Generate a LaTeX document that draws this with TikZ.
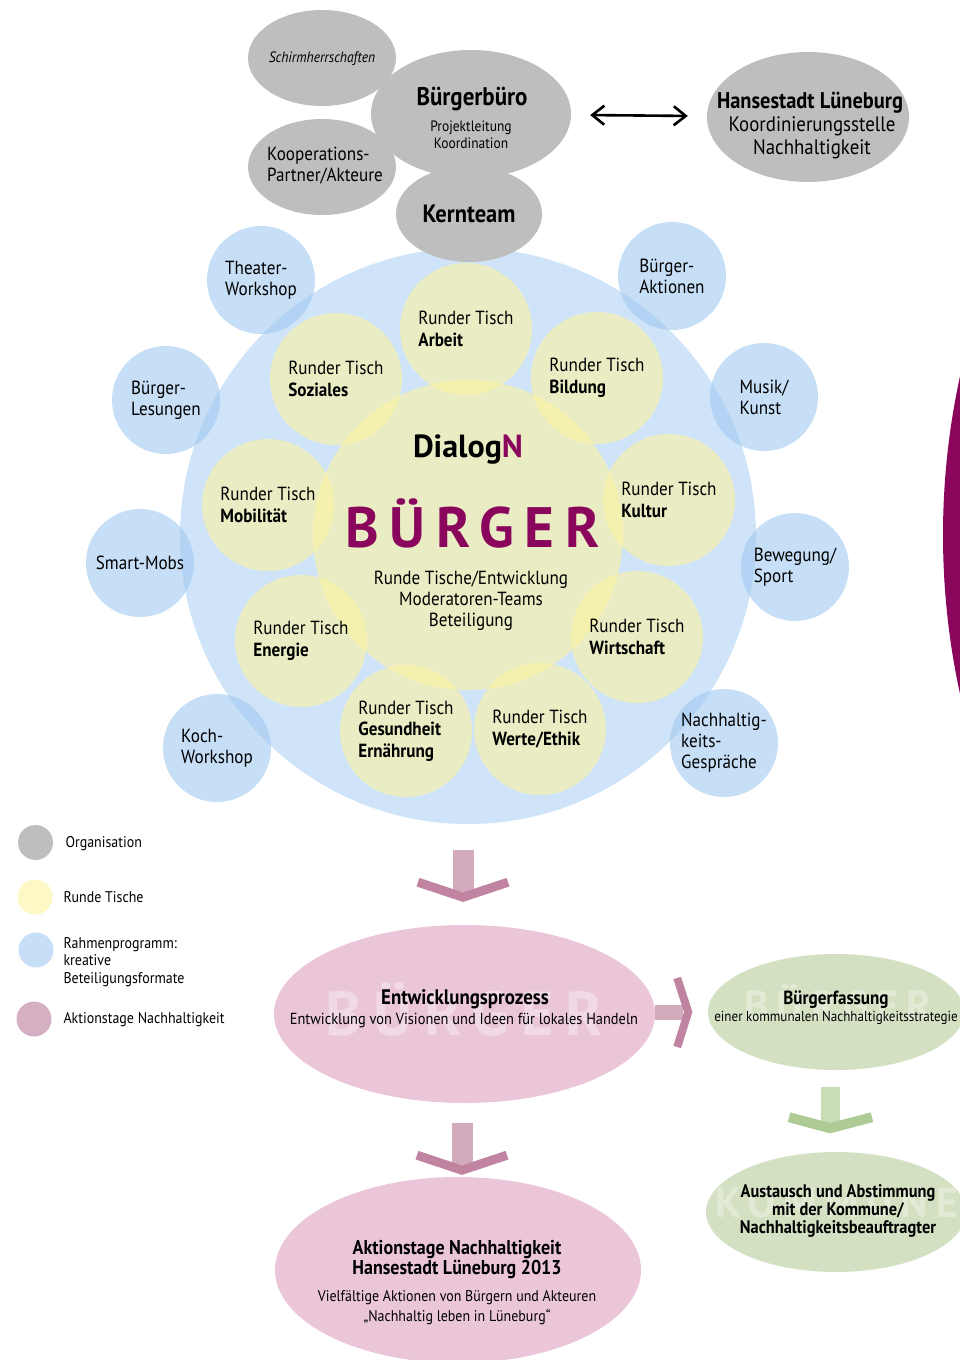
\documentclass[tikz,border=0pt]{standalone}
\usepackage{fontspec}
\setmainfont{PT Sans}[FakeStretch=0.9]
\newfontfamily\titelfont{PT Sans}
\newfontfamily\sperrfont{PT Sans}[LetterSpace=19]
\usetikzlibrary{shapes.geometric,arrows.meta,calc}

\definecolor{orgagrau}{RGB}{190,190,190}
\definecolor{tischgelb}{RGB}{252,244,160}
\definecolor{rahmenblau}{RGB}{160,200,240}
\definecolor{grossblau}{RGB}{207,228,248}
\definecolor{aktionrosa}{RGB}{234,198,216}
\definecolor{legendrosa}{RGB}{212,176,194}
\definecolor{pfeilrosa}{RGB}{212,170,189}
\definecolor{pfeilrosadunkel}{RGB}{192,132,160}
\definecolor{kommgruen}{RGB}{211,224,193}
\definecolor{pfeilgruen}{RGB}{200,220,181}
\definecolor{pfeilgruendunkel}{RGB}{174,203,150}
\definecolor{dialoglila}{RGB}{138,6,93}

\newcommand{\schrift}[2]{\fontsize{#1}{#2}\selectfont}

\begin{document}
\begin{tikzpicture}[x=1pt, y=1pt,
		orga/.style={ellipse, fill=orgagrau, inner sep=0pt},
		tisch/.style={circle, fill=tischgelb, fill opacity=0.6, text opacity=1, minimum size=132pt, inner sep=0pt, align=left, font=\schrift{19}{21.5}},
		rahmen/.style={circle, fill=rahmenblau, fill opacity=0.6, text opacity=1, minimum size=108pt, inner sep=0pt, align=left, font=\schrift{19}{21}},
		aktion/.style={ellipse, fill=aktionrosa, inner sep=0pt},
		kommune/.style={ellipse, fill=kommgruen, inner sep=0pt},
		legende/.style={circle, minimum size=35pt, inner sep=0pt},
		wasserzeichen/.style={text=white, text opacity=0.35},
		winkel/.style={line width=9pt, line join=miter},
		doppelpfeil/.style={{Straight Barb[length=12pt,width=19pt]}-{Straight Barb[length=12pt,width=19pt]}, line width=2.6pt}]

		\useasboundingbox (0,0) rectangle (960,-1360);
		\clip (0,0) rectangle (960,-1360);

		% Draw the edge of the next sheet
		\fill[dialoglila] (1686,-535) circle (743);

		% Draw the organisation circles
		\node[orga, minimum width=148pt, minimum height=96pt] (schirm) at (322,-58) {};
		\node[orga, minimum width=148pt, minimum height=96pt] (koop) at (322,-167) {};
		\node[orga, minimum width=200pt, minimum height=128pt] (buero) at (471,-114) {};
		\node[orga, minimum width=202pt, minimum height=130pt] (hanse) at (808,-117) {};

		\node[anchor=base, font=\itshape\schrift{15}{17}] (schirm-txt) at (322,-62) {Schirmherrschaften};
		\node[align=left, font=\schrift{19}{21}] (koop-txt) at (325,-166) {Kooperations-\\Partner/Akteure};
		\node[anchor=base, font=\bfseries\schrift{25.5}{27}] (buero-titel) at (472,-105) {Bürgerbüro};
		\node[align=center, font=\schrift{15}{17}] (buero-sub) at (471,-135) {Projektleitung\\Koordination};
		\node[anchor=base, font=\bfseries\schrift{22.7}{24}] (hanse-titel) at (810,-108) {Hansestadt Lüneburg};
		\node[align=center, font=\schrift{21}{23}] (hanse-sub) at (812,-138) {Koordinierungsstelle\\Nachhaltigkeit};

		\draw[doppelpfeil, shorten <=19pt, shorten >=19pt] (buero) -- (hanse);

		% Draw the big circle and the round tables
		\node[circle, fill=grossblau, minimum size=576pt, inner sep=0pt] (dialog) at (468,-536) {};
		\node[orga, minimum width=146pt, minimum height=96pt, font=\bfseries\schrift{25}{27}] (kern) at (469,-214) {Kernteam};

		\node[tisch, minimum size=310pt] (mitte) at (468,-535) {};
		\node[anchor=base, font=\titelfont\bfseries\schrift{32}{34}] (dialogn) at (468,-457) {Dialog\textcolor{dialoglila}{N}};
		\node[anchor=base, text=dialoglila, font=\sperrfont\bfseries\schrift{57}{60}] (buerger) at (472.5,-547) {BÜRGER};
		\node[align=center, font=\schrift{19}{21}] (mitte-txt) at (471,-601) {Runde Tische/Entwicklung\\Moderatoren-Teams\\Beteiligung};

		\node[tisch] (arbeit) at (466,-329) {Runder Tisch\\\textbf{Arbeit}};
		\node[tisch] (bildung) at (597,-378) {Runder Tisch\\\textbf{Bildung}};
		\node[tisch] (kultur) at (669,-500) {Runder Tisch\\\textbf{Kultur}};
		\node[tisch] (wirtschaft) at (637,-637) {Runder Tisch\\\textbf{Wirtschaft}};
		\node[tisch] (werte) at (540,-729) {Runder Tisch\\\textbf{Werte/Ethik}};
		\node[tisch] (gesundheit) at (406,-731) {Runder Tisch\\\textbf{Gesundheit}\\\textbf{Ernährung}};
		\node[tisch] (energie) at (301,-641) {Runder Tisch\\\textbf{Energie}};
		\node[tisch] (mobilitaet) at (268,-505) {Runder Tisch\\\textbf{Mobilität}};
		\node[tisch] (soziales) at (336,-379) {Runder Tisch\\\textbf{Soziales}};

		% Draw the creative formats around it
		\node[rahmen] (theater) at (261,-280) {Theater-\\Workshop};
		\node[rahmen] (aktionen) at (672,-276) {Bürger-\\Aktionen};
		\node[rahmen] (musik) at (764,-397) {Musik/\\Kunst};
		\node[rahmen] (bewegung) at (795,-567) {Bewegung/\\Sport};
		\node[rahmen] (gespraeche) at (724,-743) {Nachhaltig-\\keits-\\Gespräche};
		\node[rahmen] (koch) at (217,-748) {Koch-\\Workshop};
		\node[rahmen] (smartmobs) at (140,-563) {Smart-Mobs};
		\node[rahmen] (lesungen) at (166,-400) {Bürger-\\Lesungen};

		% Draw the legend
		\node[legende, fill=orgagrau] (leg-orga) at (35.5,-842.5) {};
		\node[legende, fill=tischgelb, fill opacity=0.6] (leg-tisch) at (35,-897) {};
		\node[legende, fill=rahmenblau, fill opacity=0.6] (leg-rahmen) at (36,-950) {};
		\node[legende, fill=legendrosa] (leg-aktion) at (34,-1019) {};

		\node[anchor=base west, font=\schrift{15.5}{17.5}] (leg-orga-txt) at (62,-847) {Organisation};
		\node[anchor=base west, font=\schrift{15.5}{17.5}] (leg-tisch-txt) at (60,-902) {Runde Tische};
		\node[anchor=west, align=left, font=\schrift{15.5}{17.5}] (leg-rahmen-txt) at (60,-962) {Rahmenprogramm:\\kreative\\Beteiligungsformate};
		\node[anchor=base west, font=\schrift{15.5}{17.5}] (leg-aktion-txt) at (60,-1023) {Aktionstage Nachhaltigkeit};

		% Draw the process below
		\node[aktion, minimum width=381pt, minimum height=178pt] (entw) at (464.5,-1014) {};
		\node[kommune, minimum width=256pt, minimum height=116pt] (fassung) at (836,-1012) {};
		\node[kommune, minimum width=260pt, minimum height=120pt] (austausch) at (836,-1212) {};
		\node[aktion, minimum width=366pt, minimum height=186pt] (aktionstage) at (458,-1270) {};

		\node[wasserzeichen, anchor=base, font=\sperrfont\bfseries\schrift{62}{64}] (entw-wz) at (464,-1035) {BÜRGER};
		\node[wasserzeichen, anchor=base, font=\sperrfont\bfseries\schrift{42}{44}] (fassung-wz) at (838,-1020) {BÜRGER};
		\node[wasserzeichen, anchor=base, font=\sperrfont\bfseries\schrift{42}{44}] (austausch-wz) at (837,-1217) {KOMMUNE};

		\node[anchor=base, font=\bfseries\schrift{21}{23}] (entw-titel) at (465,-1004) {Entwicklungsprozess};
		\node[anchor=base, font=\schrift{16}{18}] (entw-sub) at (464,-1024) {Entwicklung von Visionen und Ideen für lokales Handeln};
		\node[anchor=base, font=\bfseries\schrift{19}{21}] (fassung-titel) at (836,-1004) {Bürgerfassung};
		\node[anchor=base, font=\schrift{14.5}{16}] (fassung-sub) at (836,-1021) {einer kommunalen Nachhaltigkeitsstrategie};
		\node[align=center, font=\bfseries\schrift{18.2}{18}] (austausch-txt) at (838,-1211) {Austausch und Abstimmung\\mit der Kommune/\\Nachhaltigkeitsbeauftragter};
		\node[align=center, font=\bfseries\schrift{20}{20.5}] (aktionstage-titel) at (457,-1259.5) {Aktionstage Nachhaltigkeit\\Hansestadt Lüneburg 2013};
		\node[align=center, font=\schrift{15.5}{20}] (aktionstage-sub) at (457,-1308) {Vielfältige Aktionen von Bürgern und Akteuren\\„Nachhaltig leben in Lüneburg“};

		% Draw the block arrows between the stages
		\coordinate (pfeil-a) at ($(dialog.south)+(-5,-26)$);
		\fill[pfeilrosa] ($(pfeil-a)+(-10.5,0)$) rectangle ($(pfeil-a)+(10.5,-42)$);
		\draw[winkel, pfeilrosadunkel] ($(pfeil-a)+(-45,-32)$) -- ($(pfeil-a)+(0,-47)$) -- ($(pfeil-a)+(45,-32)$);

		\coordinate (pfeil-b) at ($(entw.south)+(-2.5,-20)$);
		\fill[pfeilrosa] ($(pfeil-b)+(-10.5,0)$) rectangle ($(pfeil-b)+(10.5,-42)$);
		\draw[winkel, pfeilrosadunkel] ($(pfeil-b)+(-45,-32)$) -- ($(pfeil-b)+(0,-47)$) -- ($(pfeil-b)+(45,-32)$);

		\coordinate (pfeil-c) at ($(fassung.south)+(-6,-17)$);
		\fill[pfeilgruen] ($(pfeil-c)+(-9.5,0)$) rectangle ($(pfeil-c)+(9.5,-38)$);
		\draw[winkel, line width=10pt, pfeilgruendunkel] ($(pfeil-c)+(-41,-30)$) -- ($(pfeil-c)+(0,-41)$) -- ($(pfeil-c)+(42,-30)$);

		\coordinate (pfeil-d) at ($(entw.east)+(0,2)$);
		\fill[pfeilrosa] ($(pfeil-d)+(0,-7.5)$) rectangle ($(pfeil-d)+(28,7.5)$);
		\draw[winkel, line width=8pt, pfeilrosadunkel] ($(pfeil-d)+(22,34)$) -- ($(pfeil-d)+(33,0)$) -- ($(pfeil-d)+(22,-35)$);

	\end{tikzpicture}
\end{document}
